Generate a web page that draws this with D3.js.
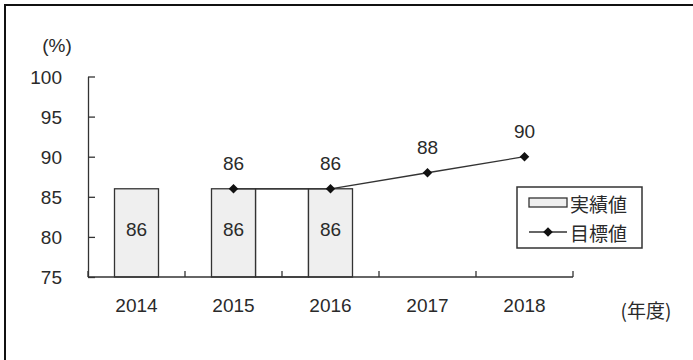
<!DOCTYPE html>
<html>
<head>
<meta charset="utf-8">
<script src="https://cdn.jsdelivr.net/npm/d3@7"></script>
<style>
body{margin:0;background:#fff;}
text{font-family:"Liberation Sans","Noto Sans CJK JP",sans-serif;font-size:19px;fill:#2a2a2a;}
.jp{font-family:"Noto Sans CJK JP",sans-serif;}
</style>
</head>
<body>
<svg id="chart"></svg>
<script>
var years=["2014","2015","2016","2017","2018"];
var actual=[86,86,86,null,null];
var target=[null,86,86,88,90];
var yTicks=[75,80,85,90,95,100];
var joined=[["2015","2016"]];
var seriesNames=["実績値","目標値"];

var width=693;
var height=360;

var svg=d3.select("#chart")
.attr("width",width)
.attr("height",height);

// frame (top + left only, rest is cut off)
svg.append("rect")
.attr("x",5).attr("y",5)
.attr("width",760).attr("height",420)
.attr("fill","none")
.attr("stroke","#111")
.attr("stroke-width",2);

var x=d3.scaleBand()
.domain(years)
.range([88,573]);

var y=d3.scaleLinear()
.domain([75,100])
.range([277,76.5]);

var barW=44;
var off=(x.bandwidth()-barW)/2;

var bars=years.map(function(d,i){return {year:d,val:actual[i]};})
.filter(function(d){return d.val!=null;});
var pts=years.map(function(d,i){return {year:d,val:target[i]};})
.filter(function(d){return d.val!=null;});

// white filler between joined bars
svg.selectAll("rect.join")
.data(joined)
.enter()
.append("rect")
.attr("class","join")
.attr("x",function(d){return x(d[0])+off+barW;})
.attr("y",function(d){return y(actual[years.indexOf(d[0])]);})
.attr("width",function(d){return x(d[1])+off-(x(d[0])+off+barW);})
.attr("height",function(d){return y(75)-y(actual[years.indexOf(d[0])]);})
.attr("fill","#fff")
.attr("stroke","#333")
.attr("stroke-width",1.3);

svg.selectAll("rect.bar")
.data(bars)
.enter()
.append("rect")
.attr("class","bar")
.attr("x",function(d){return x(d.year)+off;})
.attr("y",function(d){return y(d.val);})
.attr("width",barW)
.attr("height",function(d){return y(75)-y(d.val);})
.attr("fill","#efefef")
.attr("stroke","#333")
.attr("stroke-width",1.3);

svg.selectAll("text.barlab")
.data(bars)
.enter()
.append("text")
.attr("class","barlab")
.attr("x",function(d){return x(d.year)+x.bandwidth()/2;})
.attr("y",function(d){return (y(d.val)+y(75))/2-3;})
.attr("text-anchor","middle")
.attr("dominant-baseline","central")
.text(function(d){return d.val;});

// y axis
var yAxis=d3.axisLeft(y)
.tickValues(yTicks)
.tickSizeInner(-7)
.tickSizeOuter(0)
.tickPadding(26);

var gy=svg.append("g")
.attr("transform","translate(88,0)")
.call(yAxis);
gy.select(".domain").attr("stroke","#333").attr("stroke-width",1.3);
gy.selectAll(".tick line").attr("stroke","#333").attr("stroke-width",1.3);
gy.selectAll(".tick text")
.attr("font-size",null).attr("font-family",null)
.attr("dy",null)
.attr("dominant-baseline","central");

// x axis
var bounds=years.map(function(d){return x(d);}).concat([x.range()[1]]);
svg.append("line")
.attr("x1",x.range()[0]).attr("x2",x.range()[1])
.attr("y1",y(75)).attr("y2",y(75))
.attr("stroke","#333").attr("stroke-width",1.3);
svg.selectAll("line.xtick")
.data(bounds)
.enter()
.append("line")
.attr("class","xtick")
.attr("x1",function(d){return d;})
.attr("x2",function(d){return d;})
.attr("y1",y(75)).attr("y2",y(75)-6)
.attr("stroke","#333").attr("stroke-width",1.3);
svg.selectAll("text.xlab")
.data(years)
.enter()
.append("text")
.attr("class","xlab")
.attr("x",function(d){return x(d)+x.bandwidth()/2;})
.attr("y",305)
.attr("text-anchor","middle")
.attr("dominant-baseline","central")
.text(function(d){return d;});

// target line
var line=d3.line()
.x(function(d){return x(d.year)+x.bandwidth()/2;})
.y(function(d){return y(d.val);});
svg.append("path")
.datum(pts)
.attr("d",line)
.attr("fill","none")
.attr("stroke","#333")
.attr("stroke-width",1.3);

// square diamond marker
var diamond=d3.symbol().type(d3.symbolSquare).size(46);
svg.selectAll("path.mk")
.data(pts)
.enter()
.append("path")
.attr("class","mk")
.attr("d",diamond)
.attr("transform",function(d){return "translate("+(x(d.year)+x.bandwidth()/2)+","+y(d.val)+") rotate(45)";})
.attr("fill","#111");

svg.selectAll("text.ptlab")
.data(pts)
.enter()
.append("text")
.attr("class","ptlab")
.attr("x",function(d){return x(d.year)+x.bandwidth()/2;})
.attr("y",function(d){return y(d.val)-25;})
.attr("text-anchor","middle")
.attr("dominant-baseline","central")
.text(function(d){return d.val;});

// axis titles
svg.append("text")
.attr("x",57).attr("y",45)
.attr("text-anchor","middle")
.attr("dominant-baseline","central")
.text("(%)");
svg.append("text")
.attr("class","jp")
.attr("x",646).attr("y",309)
.attr("text-anchor","middle")
.attr("dominant-baseline","central")
.text("(年度)");

// legend
var lg=svg.append("g");
lg.append("rect")
.attr("x",517).attr("y",187)
.attr("width",125).attr("height",61)
.attr("fill","#fff")
.attr("stroke","#333")
.attr("stroke-width",1.5);
lg.append("rect")
.attr("x",529).attr("y",198)
.attr("width",38).attr("height",9)
.attr("fill","#efefef")
.attr("stroke","#333")
.attr("stroke-width",1.3);
lg.append("line")
.attr("x1",529).attr("x2",567)
.attr("y1",232).attr("y2",232)
.attr("stroke","#333").attr("stroke-width",1.3);
lg.append("path")
.attr("d",diamond)
.attr("transform","translate(548,232) rotate(45)")
.attr("fill","#111");
lg.selectAll("text")
.data(seriesNames)
.enter()
.append("text")
.attr("class","jp")
.attr("x",570)
.attr("y",function(d,i){return 203+i*29;})
.attr("dominant-baseline","central")
.text(function(d){return d;});
</script>
</body>
</html>
